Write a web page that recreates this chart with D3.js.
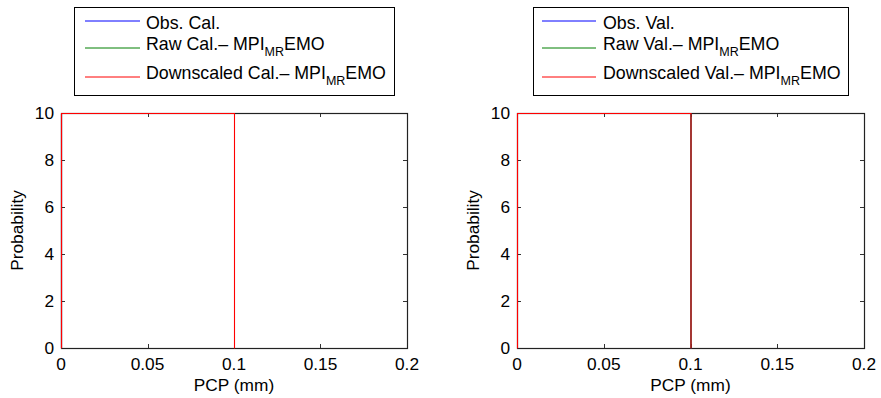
<!DOCTYPE html>
<html>
<head>
<meta charset="utf-8">
<script src="https://cdn.jsdelivr.net/npm/d3@7"></script>
<style>
  html, body { margin: 0; padding: 0; background: #fff; }
  svg { display: block; }
  text { font-family: "Liberation Sans", Arial, Helvetica, sans-serif; fill: #000; }
</style>
</head>
<body>
<svg id="chart" width="881" height="398"></svg>
<script>
// Axis ticks
const xTicks = [0, 0.05, 0.1, 0.15, 0.2];
const yTicks = [0, 2, 4, 6, 8, 10];
const xDomain = [0, 0.2];
const yDomain = [0, 10];

// Density curves (PCP in mm, probability)
const calObsX = [0, 0];
const calObsY = [0, 10];
const calRawX = [0, 0];
const calRawY = [0, 10];
const calDownX = [0, 0, 0.1, 0.1];
const calDownY = [0, 10, 10, 0];

const valObsX = [0.1, 0.1];
const valObsY = [0, 10];
const valRawX = [0.1, 0.1];
const valRawY = [0, 10];
const valDownX = [0, 0, 0.1, 0.1];
const valDownY = [0, 10, 10, 0];

// Legend labels: [before subscript, subscript, after subscript]
const calLabels = [["Obs. Cal.", "", ""], ["Raw Cal.– MPI", "MR", "EMO"], ["Downscaled Cal.– MPI", "MR", "EMO"]];
const valLabels = [["Obs.  Val.", "", ""], ["Raw Val.– MPI", "MR", "EMO"], ["Downscaled Val.– MPI", "MR", "EMO"]];
const seriesColors = ["#0000ff", "#007f00", "#ff0000"];

const svg = d3.select("#chart");
const FS = 17.3;
const LFS = 17.8;

function panel(opts) {
  const { left, right, top, bottom, series, labels, legend } = opts;
  const x = d3.scaleLinear().domain(xDomain).range([left, right]);
  const y = d3.scaleLinear().domain(yDomain).range([bottom, top]);
  const g = svg.append("g");

  // clip to plot area
  const clipId = "clip" + Math.round(left);
  svg.append("clipPath").attr("id", clipId)
    .append("rect").attr("x", left - 1).attr("y", top - 1)
    .attr("width", right - left + 2).attr("height", bottom - top + 2);

  // inward ticks on all four sides
  const tl = 4;
  const tickG = g.append("g").attr("stroke", "#333").attr("stroke-width", 1);
  xTicks.forEach(t => {
    const px = Math.round(x(t)) + 0.5;
    tickG.append("line").attr("x1", px).attr("x2", px).attr("y1", bottom).attr("y2", bottom - tl);
    tickG.append("line").attr("x1", px).attr("x2", px).attr("y1", top).attr("y2", top + tl);
  });
  yTicks.forEach(t => {
    const py = Math.round(y(t)) + 0.5;
    tickG.append("line").attr("x1", left).attr("x2", left + tl).attr("y1", py).attr("y2", py);
    tickG.append("line").attr("x1", right).attr("x2", right - tl).attr("y1", py).attr("y2", py);
  });

  // axes box
  g.append("rect")
    .attr("x", Math.round(left) + 0.5).attr("y", Math.round(top) + 0.5)
    .attr("width", Math.round(right) - Math.round(left))
    .attr("height", Math.round(bottom) - Math.round(top))
    .attr("fill", "none").attr("stroke", "#222").attr("stroke-width", 1.2);

  // tick labels
  g.selectAll(".xl").data(xTicks).enter().append("text")
    .attr("x", d => x(d)).attr("y", bottom + 22)
    .attr("text-anchor", "middle").attr("font-size", FS)
    .text(d => d3.format("")(d));
  g.selectAll(".yl").data(yTicks).enter().append("text")
    .attr("x", left - 7).attr("y", d => y(d) + 6)
    .attr("text-anchor", "end").attr("font-size", FS)
    .text(d => d);

  // axis titles
  g.append("text").attr("x", (left + right) / 2).attr("y", bottom + 43)
    .attr("text-anchor", "middle").attr("font-size", FS).text("PCP (mm)");
  g.append("text")
    .attr("transform", `translate(${left - 38},${(top + bottom) / 2}) rotate(-90)`)
    .attr("text-anchor", "middle").attr("font-size", FS).text("Probability");

  // curves
  const line = d3.line().x(d => x(d[0])).y(d => y(d[1]));
  const curves = g.append("g").attr("clip-path", `url(#${clipId})`)
    .append("g").attr("transform", "translate(0.5,0.5)");
  series.forEach((s, i) => {
    const pts = s[0].map((v, k) => [v, s[1][k]]);
    curves.append("path").attr("d", line(pts))
      .attr("fill", "none").attr("stroke", seriesColors[i]).attr("stroke-width", 1.1);
  });

  // legend, centred above the axes
  const centre = (left + right) / 2;
  const boxW = Math.round(2 * (centre - legend.x));
  const lg = svg.append("g");
  lg.append("rect")
    .attr("x", legend.x + 0.5).attr("y", legend.y + 0.5)
    .attr("width", boxW).attr("height", legend.h)
    .attr("fill", "#fff").attr("stroke", "#000").attr("stroke-width", 1);
  const lineY = [legend.y + 14, legend.y + 41, legend.y + 70];
  const baseY = [legend.y + 22, legend.y + 43, legend.y + 72];
  labels.forEach((lab, i) => {
    lg.append("line")
      .attr("x1", legend.x + legend.lineX0).attr("x2", legend.x + legend.lineX1)
      .attr("y1", lineY[i]).attr("y2", lineY[i])
      .attr("stroke", seriesColors[i]).attr("stroke-width", 1);
    const t = lg.append("text")
      .attr("x", legend.x + legend.textX).attr("y", baseY[i])
      .attr("font-size", LFS);
    t.append("tspan").text(lab[0]);
    if (lab[1]) {
      t.append("tspan").attr("font-size", 12.5).attr("dy", 6).text(lab[1]);
      t.append("tspan").attr("dy", -6).text(lab[2]);
    }
  });
}

panel({
  left: 61, right: 407, top: 113, bottom: 348,
  series: [[calObsX, calObsY], [calRawX, calRawY], [calDownX, calDownY]],
  labels: calLabels,
  legend: { x: 74, y: 7, h: 88, lineX0: 11, lineX1: 66, textX: 72 }
});

panel({
  left: 517, right: 864, top: 113, bottom: 348,
  series: [[valObsX, valObsY], [valRawX, valRawY], [valDownX, valDownY]],
  labels: valLabels,
  legend: { x: 533, y: 7, h: 88, lineX0: 9, lineX1: 63, textX: 70 }
});
</script>
</body>
</html>
